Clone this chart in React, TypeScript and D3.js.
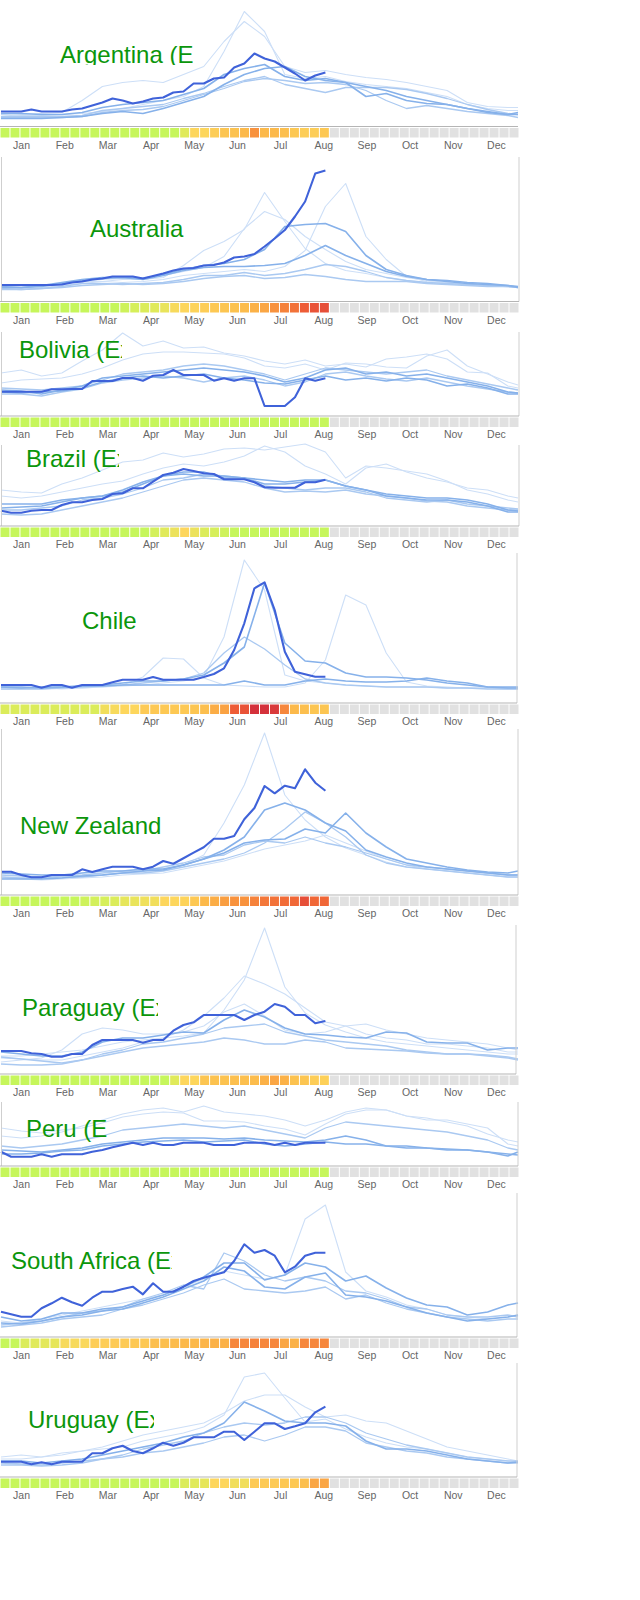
import React from 'react';
import * as d3 from 'd3';

// weekly flu activity, one panel per country
const months = ['Jan', 'Feb', 'Mar', 'Apr', 'May', 'Jun', 'Jul', 'Aug', 'Sep', 'Oct', 'Nov', 'Dec'];
// past seasons are read every second week
const pastWeeks = [0, 2, 4, 6, 8, 10, 12, 14, 16, 18, 20, 22, 24, 26, 28, 30, 32, 34, 36, 38, 40, 42, 44, 46, 48, 50, 51];

const countryNames = [
  'Argentina (Experimental)',
  'Australia',
  'Bolivia (Experimental)',
  'Brazil (Experimental)',
  'Chile',
  'New Zealand',
  'Paraguay (Experimental)',
  'Peru (Experimental)',
  'South Africa (Experimental)',
  'Uruguay (Experimental)',
];

// Argentina
const argentinaCurrent = [15, 15, 15, 17, 15, 15, 15, 17, 18, 21, 24, 28, 26, 23, 25, 28, 29, 34, 35, 43, 43, 48, 49, 59, 63, 73, 68, 65, 59, 53, 46, 51, 54];
const argentinaPast = [
  [12, 11, 11, 12, 13, 15, 18, 22, 26, 30, 40, 75, 115, 95, 52, 48, 50, 45, 42, 40, 38, 34, 30, 22, 18, 16, 16],
  [10, 12, 13, 14, 26, 40, 44, 46, 44, 52, 60, 85, 105, 90, 60, 54, 56, 52, 49, 47, 44, 40, 36, 24, 20, 19, 19],
  [13, 13, 12, 12, 14, 19, 22, 24, 26, 32, 38, 52, 58, 62, 50, 46, 48, 44, 30, 33, 26, 23, 22, 18, 14, 12, 14],
  [10, 10, 10, 10, 11, 16, 18, 20, 22, 28, 33, 40, 46, 50, 42, 38, 34, 39, 39, 39, 37, 33, 28, 22, 17, 13, 12],
  [9, 9, 9, 9, 10, 14, 16, 17, 20, 26, 32, 38, 45, 48, 46, 43, 44, 42, 36, 26, 18, 21, 18, 15, 13, 11, 9],
  [8, 8, 8, 9, 10, 13, 15, 13, 18, 24, 30, 42, 52, 58, 60, 50, 46, 44, 40, 36, 30, 26, 22, 18, 15, 12, 12],
];
const argentinaShades = [2, 2, 0, 1, 1, 0];
const argentinaLevels = [0, 0, 0, 0, 0, 0, 0, 0, 0, 0, 0, 0, 0, 0, 0, 0, 0, 0, 1, 2, 2, 2.3, 2.6, 2.7, 3, 4, 3, 3, 2.8, 2.5, 2.3, 2.3, 2.5];

// Australia
const australiaCurrent = [16.5, 16.5, 16.5, 16.5, 16.5, 16.5, 17, 19, 20, 22, 23, 25, 25, 25, 23, 25.5, 28, 31, 33, 33.5, 36, 36.5, 39, 44, 45, 47.5, 55, 63, 71.5, 85, 100, 128, 131];
const australiaPast = [
  [14, 13, 15, 17, 20, 20, 19, 20, 22, 26, 28, 30, 32, 30, 35, 51, 95, 118, 65, 42, 25, 20, 19, 17, 15, 16, 15],
  [13, 12, 14, 16, 18, 20, 22, 22, 24, 36, 51, 60, 72, 109, 80, 53, 38, 31, 28, 24, 21, 19, 18, 17, 16, 15, 14],
  [15, 14, 16, 18, 20, 22, 23, 24, 26, 30, 34, 45, 73, 90, 82, 65, 52, 40, 32, 28, 24, 21, 19, 17, 16, 15, 14],
  [15, 14, 16, 19, 22, 24, 24, 23, 27, 32, 36, 38, 42, 52, 75, 77, 78, 70, 46, 32, 26, 22, 20, 18, 17, 16, 15],
  [14, 14, 15, 18, 21, 23, 24, 22, 26, 31, 34, 35, 35, 36, 38, 46, 56, 46, 38, 30, 25, 22, 21, 19, 18, 16, 14],
  [13, 12, 13, 15, 18, 18, 17, 18, 19, 22, 26, 26, 29, 26, 28, 32, 37, 35, 30, 24, 21, 19, 18, 17, 16, 15, 14],
  [12, 12, 13, 14, 16, 17, 18, 17, 18, 20, 23, 25, 26, 23, 24, 27, 25, 22, 20, 20, 20, 18, 17, 16, 15, 15, 14],
];
const australiaShades = [2, 2, 2, 0, 0, 1, 1];
const australiaLevels = [0, 0, 0, 0, 0, 0, 0, 0, 0, 0, 0, 0, 0.3, 0.6, 0.8, 1, 1.3, 1.8, 2, 2.1, 2.3, 2.5, 2.6, 2.7, 2.9, 3.2, 3.5, 4, 4.3, 4.6, 5, 5.2, 5.3];

// Bolivia
const boliviaCurrent = [24.3, 24.3, 24.3, 24.3, 24.3, 26.7, 26.7, 27, 27, 35, 35, 35, 38, 38, 35.3, 40.3, 41, 46, 41, 41, 41, 35.3, 37.7, 35.3, 37.7, 37.7, 10, 10, 10, 18.7, 37.7, 35.3, 37.7];
const boliviaPast = [
  [43, 46, 40, 43, 55, 66, 83, 70, 75, 68, 69, 63, 60, 55, 52, 56, 50, 52, 49, 57, 59, 62, 57, 44, 43, 30, 28],
  [33, 36, 37, 38, 42, 48, 56, 62, 64, 64, 63, 62, 58, 50, 48, 52, 46, 53, 52, 49, 48, 60, 66, 50, 42, 34, 31],
  [26, 25, 22, 26, 30, 38, 40, 42, 44, 46, 48, 46, 44, 40, 34, 38, 46, 48, 42, 44, 40, 42, 38, 34, 30, 24, 23],
  [24, 23, 24, 25, 28, 34, 38, 40, 38, 40, 42, 38, 36, 33, 32, 36, 40, 36, 38, 35, 38, 36, 30, 32, 28, 22, 22],
  [22, 22, 20, 24, 27, 33, 36, 38, 40, 38, 34, 38, 40, 36, 30, 34, 42, 44, 40, 37, 35, 38, 34, 30, 27, 24, 23],
  [28, 27, 26, 28, 30, 36, 42, 44, 46, 50, 52, 50, 46, 42, 36, 42, 48, 46, 44, 42, 44, 46, 40, 36, 32, 28, 26],
];
const boliviaShades = [2, 2, 0, 0, 1, 1];
const boliviaLevels = [0, 0, 0, 0, 0, 0, 0, 0, 0, 0, 0, 0, 0, 0, 0, 0, 0, 0, 0, 0, 0, 0, 0, 0, 0, 0, 0, 0, 0, 0, 0, 0, 0];

// Brazil
const brazilCurrent = [15.3, 13.3, 13.3, 15.3, 16, 16, 21, 23.7, 23.7, 26, 27, 32, 32.7, 37.7, 37.7, 44.3, 51, 53.3, 57, 55, 52.7, 52, 46.7, 46.7, 46.7, 43.7, 38.7, 38.3, 38.3, 38.3, 43.7, 43.7, 46.3];
const brazilPast = [
  [36, 34, 33, 42, 48, 56, 64, 66, 73, 69, 72, 77, 78, 76, 79, 82, 74, 48, 60, 58, 55, 52, 45, 36, 32, 26, 24],
  [30, 28, 30, 34, 38, 42, 45, 52, 58, 62, 60, 64, 70, 80, 74, 60, 52, 42, 58, 62, 54, 48, 44, 38, 36, 30, 28],
  [18, 19, 20, 24, 28, 30, 34, 42, 50, 54, 54, 48, 48, 46, 44, 46, 46, 40, 36, 32, 30, 28, 28, 26, 22, 16, 15],
  [16, 16, 18, 20, 26, 28, 32, 38, 46, 48, 52, 50, 48, 40, 38, 36, 38, 38, 34, 28, 26, 24, 26, 22, 20, 18, 17],
  [12, 11, 12, 16, 20, 24, 28, 34, 40, 46, 48, 46, 44, 38, 34, 35, 34, 36, 32, 30, 28, 25, 24, 20, 18, 16, 16],
  [22, 22, 22, 26, 28, 30, 36, 44, 50, 52, 50, 50, 48, 42, 42, 44, 46, 40, 36, 30, 28, 26, 26, 24, 20, 14, 14],
];
const brazilShades = [2, 2, 0, 1, 1, 0];
const brazilLevels = [0, 0, 0, 0, 0, 0, 0, 0, 0, 0, 0, 0, 0, 0, 0, 0.5, 1, 1.4, 2, 1.4, 0.8, 0.6, 0.3, 0, 0, 0, 0, 0, 0, 0, 0, 0, 0];

// Chile
const chileCurrent = [18, 18, 18, 18, 15.3, 18, 18, 15.3, 18, 18, 18, 20.7, 23.3, 23.3, 23.3, 26, 23.3, 23.3, 23.3, 23.3, 26, 29, 34.7, 53, 79.7, 114.7, 120.7, 93, 51.3, 31.3, 28.7, 26.3, 26.3];
const chilePast = [
  [14, 14, 15, 14, 15, 16, 17, 18, 20, 22, 26, 66, 143, 113, 28, 22, 20, 18, 17, 16, 16, 16, 15, 15, 15, 14, 14],
  [14, 14, 14, 15, 15, 16, 18, 26, 45, 44, 25, 18, 17, 16, 16, 20, 43, 108, 98, 50, 21, 17, 16, 15, 15, 14, 14],
  [16, 16, 15, 16, 17, 18, 20, 22, 22, 24, 28, 40, 56, 120, 60, 42, 40, 30, 26, 26, 25, 23, 20, 18, 16, 15, 15],
  [14, 14, 14, 15, 16, 17, 18, 20, 22, 24, 30, 50, 66, 54, 38, 24, 20, 18, 17, 16, 16, 16, 15, 15, 14, 14, 14],
  [16, 15, 16, 16, 17, 17, 18, 18, 18, 18, 18, 18, 22, 18, 18, 22, 24, 22, 21, 21, 22, 25, 22, 20, 16, 16, 16],
];
const chileShades = [2, 2, 0, 1, 0];
const chileLevels = [0.8, 0.8, 0.8, 0.8, 0.8, 0.8, 0.8, 0.8, 0.8, 0.8, 1.6, 1.8, 2, 2, 2.4, 2.5, 2.5, 2.5, 2.5, 2.6, 2.8, 3.3, 3.6, 5, 5.2, 6, 6, 5.8, 4.2, 3, 2.8, 2.6, 2.6];

// New Zealand
const newZealandCurrent = [23.3, 23.3, 20, 17.7, 17.7, 20, 20, 20, 25.7, 23, 25.7, 28.3, 28.3, 28.3, 25.7, 28.3, 34, 31.3, 36.7, 42.3, 47.7, 56.3, 56.3, 59, 75.7, 87, 109, 101.7, 109.3, 106.7, 125.7, 112.3, 104.3];
const newZealandPast = [
  [18, 17, 16, 17, 18, 20, 22, 24, 26, 30, 40, 72, 110, 162, 100, 75, 58, 47, 40, 33, 28, 26, 24, 22, 20, 18, 18],
  [16, 16, 16, 17, 19, 20, 22, 24, 25, 30, 36, 45, 58, 85, 92, 85, 72, 64, 45, 38, 32, 28, 26, 24, 22, 20, 20],
  [22, 21, 20, 20, 22, 24, 24, 26, 26, 30, 36, 42, 52, 55, 56, 66, 62, 82, 62, 48, 36, 32, 28, 25, 23, 22, 24],
  [18, 17, 17, 18, 18, 20, 22, 22, 24, 28, 32, 36, 42, 52, 66, 83, 72, 58, 40, 32, 28, 26, 24, 22, 20, 18, 18],
  [20, 19, 18, 19, 20, 22, 24, 24, 28, 32, 38, 40, 50, 54, 52, 58, 52, 48, 42, 36, 30, 28, 26, 24, 22, 20, 20],
  [17, 16, 15, 16, 17, 18, 20, 21, 22, 26, 30, 34, 40, 46, 50, 54, 60, 52, 44, 36, 30, 26, 24, 22, 20, 18, 18],
];
const newZealandShades = [2, 0, 0, 1, 1, 2];
const newZealandLevels = [0, 0, 0, 0, 0, 0, 0, 0, 0.3, 0.5, 0.6, 0.8, 1.2, 1.3, 1.5, 1.6, 2, 2, 2.1, 2.5, 3, 3.3, 3.7, 4, 4, 4.3, 4.5, 4.6, 4.7, 4.8, 5.3, 4.8, 4.8];

// Paraguay
const paraguayCurrent = [23, 23, 23, 20.7, 20, 17.3, 17.3, 20, 20, 29, 34, 34, 34, 34, 31.3, 34, 34, 43.3, 49, 51.7, 59, 59, 59, 59, 54, 59, 62.3, 70, 67.3, 59, 59, 50.7, 53];
const paraguayPast = [
  [16, 15, 14, 14, 18, 22, 26, 32, 36, 38, 41, 64, 94, 146, 87, 61, 49, 42, 36, 32, 30, 28, 26, 24, 22, 20, 20],
  [18, 18, 20, 22, 24, 28, 32, 34, 36, 44, 58, 76, 98, 90, 80, 66, 52, 48, 40, 36, 34, 30, 30, 28, 26, 22, 22],
  [12, 14, 16, 24, 40, 46, 44, 40, 40, 42, 48, 62, 70, 58, 44, 40, 42, 48, 50, 44, 40, 36, 34, 32, 30, 26, 24],
  [22, 20, 18, 18, 22, 32, 36, 36, 39, 42, 41, 54, 64, 57, 46, 40, 39, 37, 36, 42, 41, 32, 31, 31, 24, 26, 26],
  [17, 15, 13, 11, 14, 20, 24, 30, 32, 36, 40, 46, 48, 50, 42, 38, 34, 32, 30, 28, 24, 22, 20, 20, 18, 16, 14],
  [10, 9, 9, 10, 14, 18, 22, 26, 28, 30, 32, 36, 34, 30, 30, 34, 32, 26, 25, 24, 23, 21, 20, 20, 19, 17, 15],
];
const paraguayShades = [2, 2, 2, 0, 1, 1];
const paraguayLevels = [0, 0, 0, 0, 0, 0, 0, 0, 0, 0, 0, 0, 0, 0, 0, 0, 0, 1, 2, 2, 2.6, 2.7, 2.7, 2.8, 2.8, 2.9, 3.2, 3.5, 3.2, 2.7, 2.6, 2.3, 2.2];

// Peru
const peruCurrent = [14.3, 9.3, 9.3, 9.3, 11.7, 9.3, 11.7, 11.7, 11.7, 14.3, 16, 18.7, 21, 23.3, 21, 23.3, 21, 21, 23.3, 23.3, 23.3, 21, 21, 21, 23.3, 23.3, 23.3, 21, 23.3, 21, 23.3, 23.3, 23.3];
const peruPast = [
  [38, 35, 33, 36, 38, 43, 49, 52, 54, 53, 45, 45, 44, 40, 37, 31, 42, 52, 56, 56, 50, 46, 46, 42, 38, 22, 20],
  [30, 28, 30, 34, 40, 46, 52, 56, 58, 54, 60, 54, 52, 50, 46, 40, 46, 54, 58, 56, 50, 48, 44, 40, 32, 26, 24],
  [20, 18, 20, 22, 26, 30, 36, 38, 40, 42, 40, 38, 40, 36, 32, 28, 38, 44, 42, 40, 38, 36, 34, 30, 26, 18, 16],
  [16, 15, 14, 16, 18, 22, 24, 26, 28, 28, 28, 27, 28, 26, 25, 24, 26, 30, 26, 20, 18, 18, 16, 16, 14, 10, 14],
  [12, 12, 13, 15, 16, 20, 22, 24, 25, 26, 24, 25, 26, 22, 20, 22, 24, 22, 22, 20, 20, 18, 17, 16, 14, 12, 11],
];
const peruShades = [2, 2, 1, 0, 0];
const peruLevels = [0, 0, 0, 0, 0, 0, 0, 0, 0, 0, 0, 0, 0, 0, 0, 0, 0, 0, 0, 0, 0, 0, 0, 0, 0, 0, 0, 0, 0, 0, 0, 0, 0];

// South Africa
const southAfricaCurrent = [25.3, 22.7, 20.3, 20.3, 28.7, 33.7, 39.3, 34.7, 31.3, 39.3, 45.3, 45.3, 48, 50.3, 42.7, 53.7, 45.3, 45.3, 50.3, 56, 59.3, 62, 64.7, 76, 92.7, 84.3, 87, 81.3, 64.7, 70.3, 81.3, 84.3, 84.3];
const southAfricaPast = [
  [16, 14, 18, 22, 26, 30, 34, 38, 42, 50, 58, 66, 62, 58, 62, 118, 132, 65, 46, 40, 32, 28, 22, 20, 18, 20, 22],
  [12, 14, 16, 20, 24, 26, 30, 38, 44, 52, 48, 84, 76, 62, 56, 60, 56, 46, 44, 38, 30, 28, 22, 20, 20, 22, 20],
  [20, 16, 18, 24, 24, 28, 30, 36, 42, 50, 60, 74, 74, 57, 62, 74, 70, 56, 61, 49, 39, 32, 30, 22, 25, 32, 34],
  [14, 13, 16, 20, 22, 26, 28, 34, 40, 48, 56, 70, 66, 50, 48, 60, 64, 42, 40, 36, 30, 24, 20, 16, 18, 20, 22],
  [10, 12, 14, 18, 20, 22, 28, 32, 38, 44, 52, 58, 48, 46, 44, 46, 50, 38, 42, 34, 28, 24, 20, 18, 16, 18, 18],
];
const southAfricaShades = [2, 1, 0, 0, 1];
const southAfricaLevels = [0, 0, 0.8, 1, 1.1, 1.2, 1.8, 1.8, 1.9, 2.3, 2.3, 2.4, 2.4, 2.5, 2.5, 2.8, 2.8, 2.9, 3, 3, 3.1, 3.2, 3.2, 4.2, 4.2, 4.3, 4.2, 4.2, 3.5, 3.2, 4.2, 4.2, 4.2];

// Uruguay
const uruguayCurrent = [15.3, 15.3, 15.3, 12.7, 14.7, 12.7, 15.3, 15.3, 15.3, 23.7, 23.7, 28.7, 31.3, 26, 23.7, 28.7, 34.3, 31.3, 34.3, 39.7, 39.7, 39.7, 45.3, 45.3, 37, 45.3, 53.7, 53.7, 48, 50.7, 53.7, 64.7, 70.3];
const uruguayPast = [
  [20, 22, 20, 22, 26, 28, 30, 36, 40, 44, 50, 62, 100, 104, 79, 55, 58, 48, 40, 34, 30, 28, 24, 20, 18, 16, 15],
  [18, 18, 20, 24, 26, 30, 36, 42, 46, 50, 54, 64, 76, 82, 82, 70, 60, 62, 56, 54, 46, 38, 30, 26, 22, 18, 16],
  [16, 16, 14, 16, 18, 22, 26, 30, 34, 40, 44, 54, 75, 66, 56, 54, 54, 51, 36, 28, 28, 26, 22, 18, 16, 14, 15],
  [12, 12, 11, 12, 14, 18, 22, 28, 32, 36, 44, 50, 54, 52, 54, 60, 60, 54, 44, 38, 32, 28, 24, 20, 18, 16, 16],
  [14, 13, 12, 14, 16, 18, 20, 24, 26, 30, 34, 40, 42, 36, 42, 50, 50, 46, 34, 30, 26, 24, 20, 18, 16, 14, 14],
];
const uruguayShades = [2, 2, 0, 1, 1];
const uruguayLevels = [0, 0, 0, 0, 0, 0, 0, 0, 0, 0, 0, 0, 0, 0, 0, 0, 0, 0, 0.8, 1, 1.2, 2, 2, 1.6, 1.6, 2.4, 2.4, 2.4, 2.5, 2.5, 2.8, 3.5, 3.5];

const panels = [
  { current: argentinaCurrent, past: argentinaPast, shades: argentinaShades, levels: argentinaLevels },
  { current: australiaCurrent, past: australiaPast, shades: australiaShades, levels: australiaLevels },
  { current: boliviaCurrent, past: boliviaPast, shades: boliviaShades, levels: boliviaLevels },
  { current: brazilCurrent, past: brazilPast, shades: brazilShades, levels: brazilLevels },
  { current: chileCurrent, past: chilePast, shades: chileShades, levels: chileLevels },
  { current: newZealandCurrent, past: newZealandPast, shades: newZealandShades, levels: newZealandLevels },
  { current: paraguayCurrent, past: paraguayPast, shades: paraguayShades, levels: paraguayLevels },
  { current: peruCurrent, past: peruPast, shades: peruShades, levels: peruLevels },
  { current: southAfricaCurrent, past: southAfricaPast, shades: southAfricaShades, levels: southAfricaLevels },
  { current: uruguayCurrent, past: uruguayPast, shades: uruguayShades, levels: uruguayLevels },
].map((p, i) => ({ ...p, name: countryNames[i] }));

// page geometry of each small chart
const layout = [
  { top: 0, bottom: 126.5, titleX: 60, titleY: 63, clipRight: 193, leftBorder: false, rightX: null },
  { top: 157, bottom: 301.5, titleX: 90, titleY: 237, clipRight: null, leftBorder: true, rightX: 519 },
  { top: 332, bottom: 416, titleX: 19, titleY: 358, clipRight: 122, leftBorder: true, rightX: 519 },
  { top: 445, bottom: 526, titleX: 26, titleY: 467, clipRight: 119, leftBorder: true, rightX: 519 },
  { top: 553, bottom: 703, titleX: 82, titleY: 629, clipRight: null, leftBorder: false, rightX: 517 },
  { top: 729, bottom: 895, titleX: 20, titleY: 834, clipRight: null, leftBorder: true, rightX: 518 },
  { top: 925, bottom: 1074, titleX: 22, titleY: 1016, clipRight: 158, leftBorder: false, rightX: 516 },
  { top: 1102, bottom: 1166, titleX: 26, titleY: 1137, clipRight: 107, leftBorder: true, rightX: 518 },
  { top: 1193, bottom: 1337, titleX: 11, titleY: 1269, clipRight: 172, leftBorder: false, rightX: 517 },
  { top: 1363, bottom: 1477, titleX: 28, titleY: 1428, clipRight: 154, leftBorder: false, rightX: 517 },
];

const levelColor = d3
  .scaleLinear<string>()
  .domain([0, 1, 2, 3, 4, 5, 6])
  .range(['#c6f65b', '#e0ea5a', '#fdd65c', '#fcb94a', '#f8923d', '#ee5c36', '#d4313b'])
  .clamp(true);

const shadeStyles = [
  { stroke: '#86b1ea', width: 1.6 },
  { stroke: '#aac9f1', width: 1.3 },
  { stroke: '#cddff7', width: 1.1 },
];

const FONT = 'Arial, "Liberation Sans", sans-serif';

const x = d3.scaleLinear().domain([0, 51]).range([1, 518]);
const cells = d3.scaleBand<number>().domain(d3.range(52)).range([0.5, 518.5]).paddingInner(0.1);
const monthBand = d3.scaleBand<string>().domain(months).range([0, 518]);

function Panel({ data, box, idx }: { data: typeof panels[number]; box: typeof layout[number]; idx: number }) {
  const y = d3.scaleLinear().domain([0, box.bottom - box.top]).range([box.bottom, box.top]);
  const currentLine = d3.line<number>().x((_, i) => x(i)).y(v => y(v));
  const pastLine = d3.line<number>().x((_, i) => x(pastWeeks[i])).y(v => y(v));

  // faintest seasons go underneath
  const order = d3.range(data.past.length).sort((a, b) => data.shades[b] - data.shades[a]);
  const stripTop = box.bottom + 1.5;
  const clipId = `title-clip-${idx}`;

  return (
    <g>
      {box.clipRight != null && (
        <clipPath id={clipId}>
          <rect x={box.titleX - 2} y={box.titleY - 24} width={box.clipRight - box.titleX + 2} height={idx === 0 ? 26 : 31} />
        </clipPath>
      )}
      {order.map(k => {
        const s = shadeStyles[data.shades[k]];
        return (
          <path key={k} d={pastLine(data.past[k]) || ''} fill="none" stroke={s.stroke}
            strokeWidth={s.width} strokeLinejoin="round" />
        );
      })}
      <path d={currentLine(data.current) || ''} fill="none" stroke="#3f62d9" strokeWidth={2.1} strokeLinejoin="round" />

      {box.leftBorder && <line x1={1.5} x2={1.5} y1={box.top} y2={box.bottom} stroke="#cfcfcf" />}
      {box.rightX != null && <line x1={box.rightX} x2={box.rightX} y1={box.top} y2={box.bottom} stroke="#cfcfcf" />}
      <line x1={0} x2={box.rightX ?? 518} y1={box.bottom} y2={box.bottom} stroke="#b5b5b5" />

      <text x={box.titleX} y={box.titleY} fontFamily={FONT} fontSize={24} fill="#0b960b"
        clipPath={box.clipRight != null ? `url(#${clipId})` : undefined}>
        {data.name}
      </text>

      {d3.range(52).map(w => (
        <rect key={w} x={cells(w)} y={stripTop} width={cells.bandwidth()} height={9.5}
          fill={w < data.levels.length ? levelColor(data.levels[w]) : '#e1e1e1'} />
      ))}
      {months.map(m => (
        <text key={m} x={(monthBand(m) ?? 0) + monthBand.bandwidth() / 2} y={box.bottom + 22}
          textAnchor="middle" fontFamily={FONT} fontSize={10.5} fill="#666">
          {m}
        </text>
      ))}
    </g>
  );
}

export default function App() {
  return (
    <svg width={640} height={1600} style={{ position: 'absolute', left: 0, top: 0, background: '#fff' }}>
      {panels.map((p, i) => (
        <Panel key={p.name} data={p} box={layout[i]} idx={i} />
      ))}
    </svg>
  );
}
